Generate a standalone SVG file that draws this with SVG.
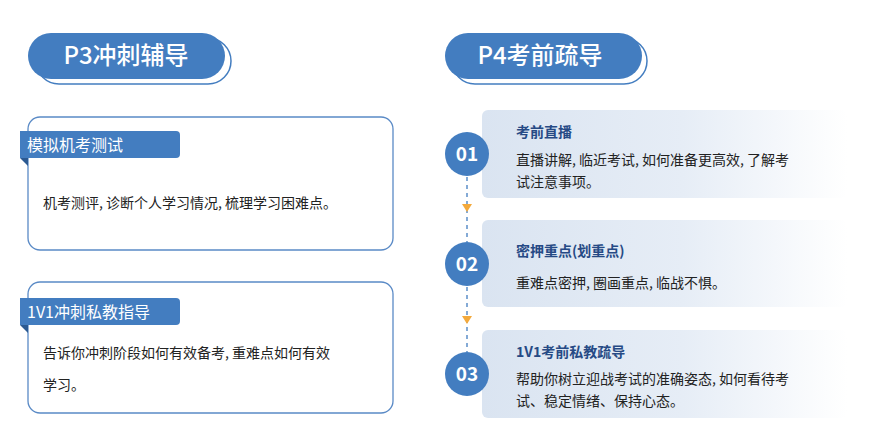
<svg xmlns="http://www.w3.org/2000/svg" width="885" height="430" viewBox="0 0 885 430">
<defs>
<linearGradient id="g" x1="0" x2="1" y1="0" y2="0"><stop offset="0" stop-color="#dae4f1"/><stop offset="0.55" stop-color="#e6edf6"/><stop offset="1" stop-color="#ffffff"/></linearGradient>
<style>
.pill{fill:#437dc0}.pillo{fill:#fff;stroke:#437dc0;stroke-width:1.5}
.card{fill:#fff;stroke:#5a8ac6;stroke-width:1.3}
.tag{fill:#437dc0}
.f{font-family:"Noto Sans CJK SC","Noto Sans",sans-serif}
.h{fill:#fff;font-size:24px;font-weight:500}
.t{fill:#fff;font-size:16px}
.b{fill:#222;font-size:14px}
.st{fill:#264a85;font-size:14px;font-weight:bold}
.num{fill:#fff;font-size:19px;font-weight:bold}
.box{fill:url(#g)}
.c{fill:#437dc0}
</style>
</defs>
<g id="p3-title"><rect class="pillo" x="36" y="38" width="195" height="46" rx="23"/><rect class="pill" x="28" y="33" width="197" height="46" rx="23"/><text class="f h" x="126" y="64" text-anchor="middle">P3冲刺辅导</text></g>
<g id="p4-title"><rect class="pillo" x="452" y="38" width="195" height="46" rx="23"/><rect class="pill" x="445" y="33" width="197" height="46" rx="23"/><text class="f h" x="540" y="64" text-anchor="middle">P4考前疏导</text></g>
<g id="card1"><rect class="card" x="28" y="117" width="365" height="133" rx="12"/><path d="M20 158 L28 158 L28 166 Z" fill="#2c5a92"/><path class="tag" d="M20 131 H176 a4 4 0 0 1 4 4 V154 a4 4 0 0 1 -4 4 H20 Z"/><text class="f t" x="27" y="151">模拟机考测试</text><text class="f b" x="43" y="208">机考测评, 诊断个人学习情况, 梳理学习困难点。</text></g>
<g id="card2"><rect class="card" x="28" y="282" width="365" height="131" rx="12"/><path d="M20 325 L28 325 L28 333 Z" fill="#2c5a92"/><path class="tag" d="M20 298 H176 a4 4 0 0 1 4 4 V321 a4 4 0 0 1 -4 4 H20 Z"/><text class="f t" x="27" y="318">1V1冲刺私教指导</text><text class="f b" x="43" y="358">告诉你冲刺阶段如何有效备考, 重难点如何有效</text><text class="f b" x="43" y="390">学习。</text></g>
<g id="connectors" stroke="#437dc0" stroke-width="1.3" stroke-dasharray="4 4"><line x1="467" y1="177" x2="467" y2="242"/><line x1="467" y1="287" x2="467" y2="352"/><g fill="#f3a93c" stroke="none"><path d="M462 204 H472 L467 212 Z"/><path d="M462 316 H472 L467 324 Z"/></g></g>
<g id="step1"><rect class="box" x="482" y="110" width="365" height="88" rx="6"/><circle class="c" cx="467" cy="154" r="22"/><text class="f num" x="467" y="161" text-anchor="middle">01</text><text class="f st" x="516" y="137">考前直播</text><text class="f b" x="516" y="165">直播讲解, 临近考试, 如何准备更高效, 了解考</text><text class="f b" x="516" y="187">试注意事项。</text></g>
<g id="step2"><rect class="box" x="482" y="220" width="365" height="87" rx="6"/><circle class="c" cx="467" cy="264" r="22"/><text class="f num" x="467" y="271" text-anchor="middle">02</text><text class="f st" x="516" y="256">密押重点(划重点)</text><text class="f b" x="516" y="288">重难点密押, 圈画重点, 临战不惧。</text></g>
<g id="step3"><rect class="box" x="482" y="330" width="365" height="88" rx="6"/><circle class="c" cx="467" cy="374" r="22"/><text class="f num" x="467" y="381" text-anchor="middle">03</text><text class="f st" x="516" y="357">1V1考前私教疏导</text><text class="f b" x="516" y="384">帮助你树立迎战考试的准确姿态, 如何看待考</text><text class="f b" x="516" y="406">试、稳定情绪、保持心态。</text></g>
</svg>
